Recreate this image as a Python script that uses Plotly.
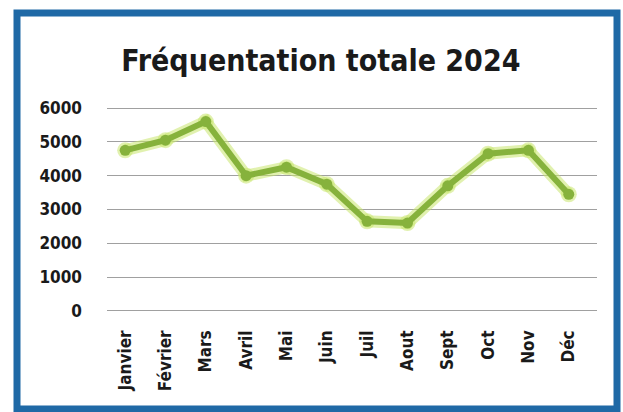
import plotly.graph_objects as go

months = ["Janvier", "Février", "Mars", "Avril", "Mai", "Juin", "Juil", "Aout", "Sept", "Oct", "Nov", "Déc"]
visits = [4750, 5050, 5600, 4000, 4250, 3750, 2650, 2600, 3700, 4650, 4750, 3450]
y_ticks = [0, 1000, 2000, 3000, 4000, 5000, 6000]
title_text = "Fréquentation totale 2024"

W, H = 623, 412
Y0, Y1 = -30, 6030
# pixel rows for y=0 and y=6000
p0, p6 = 311, 108
k = (p0 - p6) / 6000.0
T = p6 - (Y1 - 6000) * k
B = H - (p0 + (0 - Y0) * k)
L, R = 107, 26
pw, ph = W - L - R, H - T - B

def px(x):
    return (x - L) / pw

def py(y):
    return (H - B - y) / ph

FONT = "DejaVu Sans Condensed, DejaVu Sans"

fig = go.Figure()
fig.add_trace(go.Scatter(
    x=months, y=visits, mode="lines+markers",
    line=dict(color="rgba(200,230,110,0.55)", width=12),
    marker=dict(size=16, color="rgba(200,230,110,0.55)"),
    hoverinfo="skip", showlegend=False,
))
fig.add_trace(go.Scatter(
    x=months, y=visits, mode="lines+markers",
    line=dict(color="#86b23c", width=6),
    marker=dict(size=11, color="#86b23c"),
    showlegend=False,
))

fig.update_layout(
    width=W, height=H,
    margin=dict(l=L, r=R, t=T, b=B),
    paper_bgcolor="white", plot_bgcolor="white",
    title=dict(text=title_text, x=0.515, xanchor="center", y=1 - 60 / H, yanchor="middle",
               font=dict(family=FONT, size=30, color="#1a1a1a", weight="bold")),
    xaxis=dict(range=[-0.45, 11.7], showgrid=False, zeroline=False, showline=False,
               tickangle=-90, ticks="", ticklabelstandoff=14,
               tickfont=dict(family=FONT, size=17, color="#1a1a1a", weight="bold")),
    yaxis=dict(range=[Y0, Y1], tickvals=y_ticks, showgrid=True, gridcolor="#a0a0a0", gridwidth=1,
               zeroline=False, showline=False, ticks="", ticklabelstandoff=24,
               tickfont=dict(family=FONT, size=17, color="#1a1a1a", weight="bold")),
    shapes=[dict(type="rect", xref="paper", yref="paper",
                 x0=px(17), x1=px(617), y0=py(13), y1=py(409),
                 line=dict(color="#1f69a6", width=7), layer="below")],
)

fig.write_html("out.html", config={"displayModeBar": False},
               post_script="document.body.style.margin='0';document.body.style.padding='0';")
